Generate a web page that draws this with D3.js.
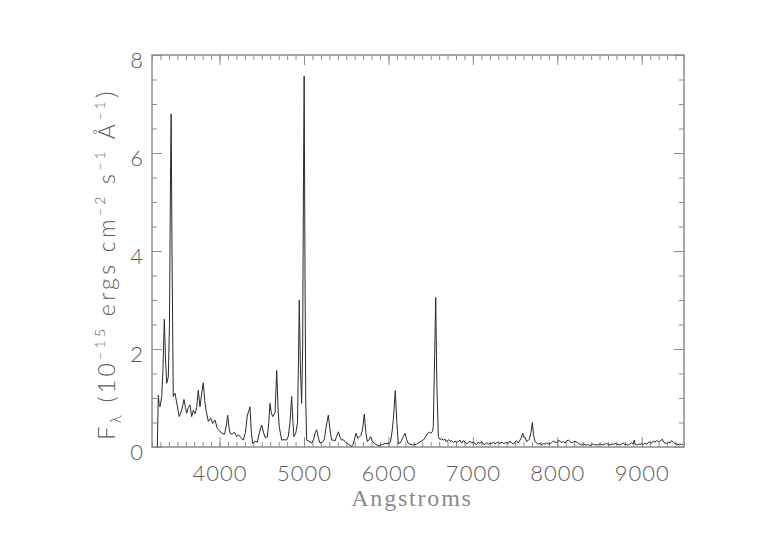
<!DOCTYPE html>
<html>
<head>
<meta charset="utf-8">
<script src="https://cdn.jsdelivr.net/npm/d3@7"></script>
<style>
  html, body { margin: 0; padding: 0; background: #fff; }
  svg { display: block; }
</style>
</head>
<body>
<svg id="chart" width="760" height="560"></svg>
<script>
// ---- data ----
const wavelength = [
  3263,3275,3285,3295,3315,3330,3346,3360,3374,3393,3407,3419,3427,3437,3452,3472,3493,3508,3523,3551,
  3579,3597,3611,3630,3650,3670,3689,3709,3729,3748,3768,3789,3807,3824,3839,3867,3895,3919,3946,3973,
  3999,4025,4059,4082,4096,4112,4124,4147,4177,4203,4224,4248,4281,4307,4329,4349,4360,4376,4392,4420,
  4447,4473,4499,4520,4538,4565,4583,4597,4613,4629,4657,4677,4692,4707,4736,4763,4795,4814,4834,4854,
  4869,4881,4905,4923,4935,4944,4958,4972,4984,4994,5002,5012,5021,5032,5059,5091,5112,5136,5150,5171,
  5189,5219,5240,5266,5288,5308,5328,5347,5367,5387,5407,5426,5446,5465,5486,5506,5525,5545,5565,5584,
  5616,5636,5653,5675,5693,5714,5732,5750,5770,5790,5809,5829,5853,5892,5924,5959,5998,6024,6042,6060,
  6081,6099,6117,6137,6157,6178,6197,6216,6235,6255,6294,6334,6367,6391,6412,6438,6465,6486,6504,6521,
  6531,6543,6560,6573,6591,6610,6628,6649,6670,6687,6709,6729,6749,6768,6788,6808,6827,6847,6865,6886,
  6907,6927,6946,6966,6986,7005,7025,7045,7064,7084,7104,7123,7143,7163,7183,7203,7222,7242,7262,7282,
  7301,7321,7345,7362,7380,7400,7419,7439,7460,7479,7499,7516,7538,7558,7576,7590,7603,7617,7637,7653,
  7668,7688,7704,7718,7736,7756,7775,7795,7815,7834,7854,7874,7893,7913,7933,7952,7972,7992,8011,8032,
  8052,8071,8091,8111,8130,8150,8170,8189,8209,8229,8248,8268,8288,8307,8328,8347,8367,8387,8407,8426,
  8446,8466,8485,8505,8525,8544,8564,8584,8603,8624,8643,8663,8683,8703,8722,8742,8762,8781,8801,8821,
  8840,8860,8880,8895,8911,8923,8943,8961,8979,8999,9018,9038,9058,9077,9097,9117,9136,9156,9176,9195,
  9215,9233,9243,9257,9275,9295,9314,9334,9354,9369,9393,9413,9432,9452,9472,9487
];
const flux = [
  0.00,1.06,0.85,0.82,1.03,1.60,2.61,1.80,1.30,1.43,2.50,5.50,6.80,4.00,1.03,1.10,0.90,0.75,0.62,0.75,
  0.97,0.80,0.69,0.80,0.86,0.62,0.75,0.68,0.80,1.16,0.82,1.10,1.31,0.95,0.76,0.52,0.59,0.48,0.55,0.38,
  0.33,0.28,0.26,0.45,0.65,0.40,0.28,0.26,0.30,0.21,0.25,0.20,0.14,0.30,0.65,0.75,0.82,0.30,0.07,0.12,
  0.10,0.30,0.45,0.30,0.20,0.20,0.50,0.89,0.70,0.62,0.70,1.56,0.80,0.41,0.14,0.15,0.14,0.22,0.50,1.03,
  0.50,0.21,0.30,0.50,1.80,3.00,1.60,0.89,2.00,5.50,7.57,3.50,0.90,0.14,0.12,0.08,0.15,0.30,0.35,0.18,
  0.08,0.10,0.15,0.45,0.65,0.35,0.14,0.14,0.12,0.22,0.31,0.20,0.14,0.15,0.11,0.08,0.05,0.04,0.01,0.06,
  0.28,0.18,0.20,0.24,0.35,0.67,0.30,0.11,0.15,0.21,0.12,0.08,0.05,0.02,0.05,0.07,0.07,0.10,0.30,0.60,
  1.15,0.50,0.07,0.08,0.14,0.22,0.28,0.15,0.07,0.06,0.04,0.06,0.10,0.12,0.14,0.20,0.28,0.30,0.28,0.32,
  0.41,1.50,3.05,1.30,0.21,0.15,0.17,0.14,0.16,0.10,0.15,0.12,0.13,0.09,0.12,0.10,0.11,0.14,0.08,0.13,
  0.10,0.06,0.09,0.12,0.08,0.10,0.07,0.05,0.10,0.07,0.11,0.06,0.05,0.09,0.06,0.08,0.07,0.10,0.06,0.09,
  0.10,0.07,0.10,0.07,0.08,0.09,0.07,0.12,0.08,0.06,0.10,0.13,0.08,0.14,0.20,0.28,0.20,0.20,0.11,0.13,
  0.16,0.30,0.50,0.25,0.11,0.08,0.06,0.07,0.05,0.07,0.06,0.08,0.06,0.07,0.09,0.12,0.10,0.09,0.13,0.12,
  0.09,0.11,0.08,0.13,0.14,0.11,0.09,0.10,0.12,0.10,0.08,0.06,0.04,0.06,0.05,0.04,0.05,0.03,0.05,0.06,
  0.04,0.05,0.04,0.06,0.05,0.04,0.06,0.07,0.05,0.04,0.06,0.05,0.07,0.06,0.05,0.04,0.06,0.08,0.05,0.05,
  0.04,0.06,0.09,0.06,0.14,0.05,0.04,0.06,0.05,0.07,0.05,0.08,0.06,0.09,0.11,0.08,0.12,0.10,0.13,0.11,
  0.12,0.14,0.16,0.10,0.08,0.07,0.10,0.08,0.13,0.10,0.07,0.06,0.05,0.06,0.05,0.06
];
const xTickValues = [4000, 5000, 6000, 7000, 8000, 9000];
const yTickValues = [0, 2, 4, 6, 8];
const xDomain = [3200, 9500];
const yDomain = [0, 8];
const xTitle = "Angstroms";

// ---- layout ----
const L = 152, R = 684, T = 55, B = 447;
const svg = d3.select("#chart");
const x = d3.scaleLinear().domain(xDomain).range([L, R]);
const y = d3.scaleLinear().domain(yDomain).range([B, T]);

const axisColor = "#8c8c8c";
const textColor = "#5a5a5a";
const tickFont = "Lato, 'DejaVu Sans', sans-serif";

const xMinor = d3.range(xDomain[0], xDomain[1] + 1, 100);
const yMinor = d3.range(yDomain[0], yDomain[1] + 0.001, 0.5);

function styleAxis(g) {
  g.select(".domain").remove();
  g.selectAll(".tick line").attr("stroke", axisColor).attr("stroke-width", 1);
}

// bottom
svg.append("g").attr("transform", `translate(0,${B})`)
  .call(d3.axisBottom(x).tickValues(xMinor).tickSize(-5).tickFormat(""))
  .call(styleAxis);
svg.append("g").attr("transform", `translate(0,${B})`)
  .call(d3.axisBottom(x).tickValues(xTickValues).tickSize(-10)
        .tickFormat(d3.format("d")))
  .call(styleAxis)
  .call(g => g.selectAll("text").attr("fill", textColor)
      .attr("font-family", tickFont).attr("font-weight", 300)
      .attr("font-size", 22).attr("letter-spacing", 1).attr("dy", 0).attr("y", 34));
// top
svg.append("g").attr("transform", `translate(0,${T})`)
  .call(d3.axisTop(x).tickValues(xMinor).tickSize(-5).tickFormat(""))
  .call(styleAxis);
svg.append("g").attr("transform", `translate(0,${T})`)
  .call(d3.axisTop(x).tickValues(xTickValues).tickSize(-10).tickFormat(""))
  .call(styleAxis);
// left
svg.append("g").attr("transform", `translate(${L},0)`)
  .call(d3.axisLeft(y).tickValues(yMinor).tickSize(-5).tickFormat(""))
  .call(styleAxis);
svg.append("g").attr("transform", `translate(${L},0)`)
  .call(d3.axisLeft(y).tickValues(yTickValues).tickSize(-10)
        .tickFormat(d3.format("d")))
  .call(styleAxis)
  .call(g => g.selectAll("text").attr("fill", textColor)
      .attr("font-family", tickFont).attr("font-weight", 300)
      .attr("font-size", 22).attr("x", -9).attr("dy", "0.55em"));
// right
svg.append("g").attr("transform", `translate(${R},0)`)
  .call(d3.axisRight(y).tickValues(yMinor).tickSize(-5).tickFormat(""))
  .call(styleAxis);
svg.append("g").attr("transform", `translate(${R},0)`)
  .call(d3.axisRight(y).tickValues(yTickValues).tickSize(-10).tickFormat(""))
  .call(styleAxis);

// frame
svg.append("rect").attr("x", L).attr("y", T).attr("width", R - L).attr("height", B - T)
  .attr("fill", "none").attr("stroke", axisColor).attr("stroke-width", 1.5);

// spectrum
const pts = wavelength.map((w, i) => [w, flux[i]]);
const line = d3.line().x(d => x(d[0])).y(d => y(d[1]));
svg.append("path").datum(pts).attr("d", line)
  .attr("fill", "none").attr("stroke", "#2a2a2a").attr("stroke-width", 1)
  .attr("stroke-linejoin", "round");

// x title
svg.append("text").attr("x", (L + R) / 2 - 6).attr("y", 506)
  .attr("text-anchor", "middle").attr("fill", "#8a8a8a")
  .attr("font-family", "'Liberation Serif', 'DejaVu Serif', serif")
  .attr("font-size", 24).attr("letter-spacing", 1.8).text(xTitle);

// y title with sub/superscripts
const yt = svg.append("text")
  .attr("transform", "translate(115,440) rotate(-90)")
  .attr("fill", textColor).attr("font-family", tickFont).attr("font-weight", 300)
  .attr("font-size", 23);
const parts = [
  ["F", 0, 24], ["λ", 6, 15], [" (10", -6, 23], ["−15", -10, 14], [" ergs cm", 10, 23],
  ["−2", -10, 14], [" s", 10, 23], ["−1", -10, 14], [" Å", 10, 23], ["−1", -10, 14], [")", 10, 26]
];
parts.forEach(p => {
  yt.append("tspan").attr("dy", p[1]).attr("font-size", p[2]).text(p[0]);
});
// spread the letters so the title spans the same length as the reference
const len = yt.node().getComputedTextLength();
const nChars = parts.reduce((a, p) => a + p[0].length, 0);
const target = 352;
if (len > 0 && len < target) {
  yt.attr("letter-spacing", (target - len) / nChars);
}
</script>
</body>
</html>
